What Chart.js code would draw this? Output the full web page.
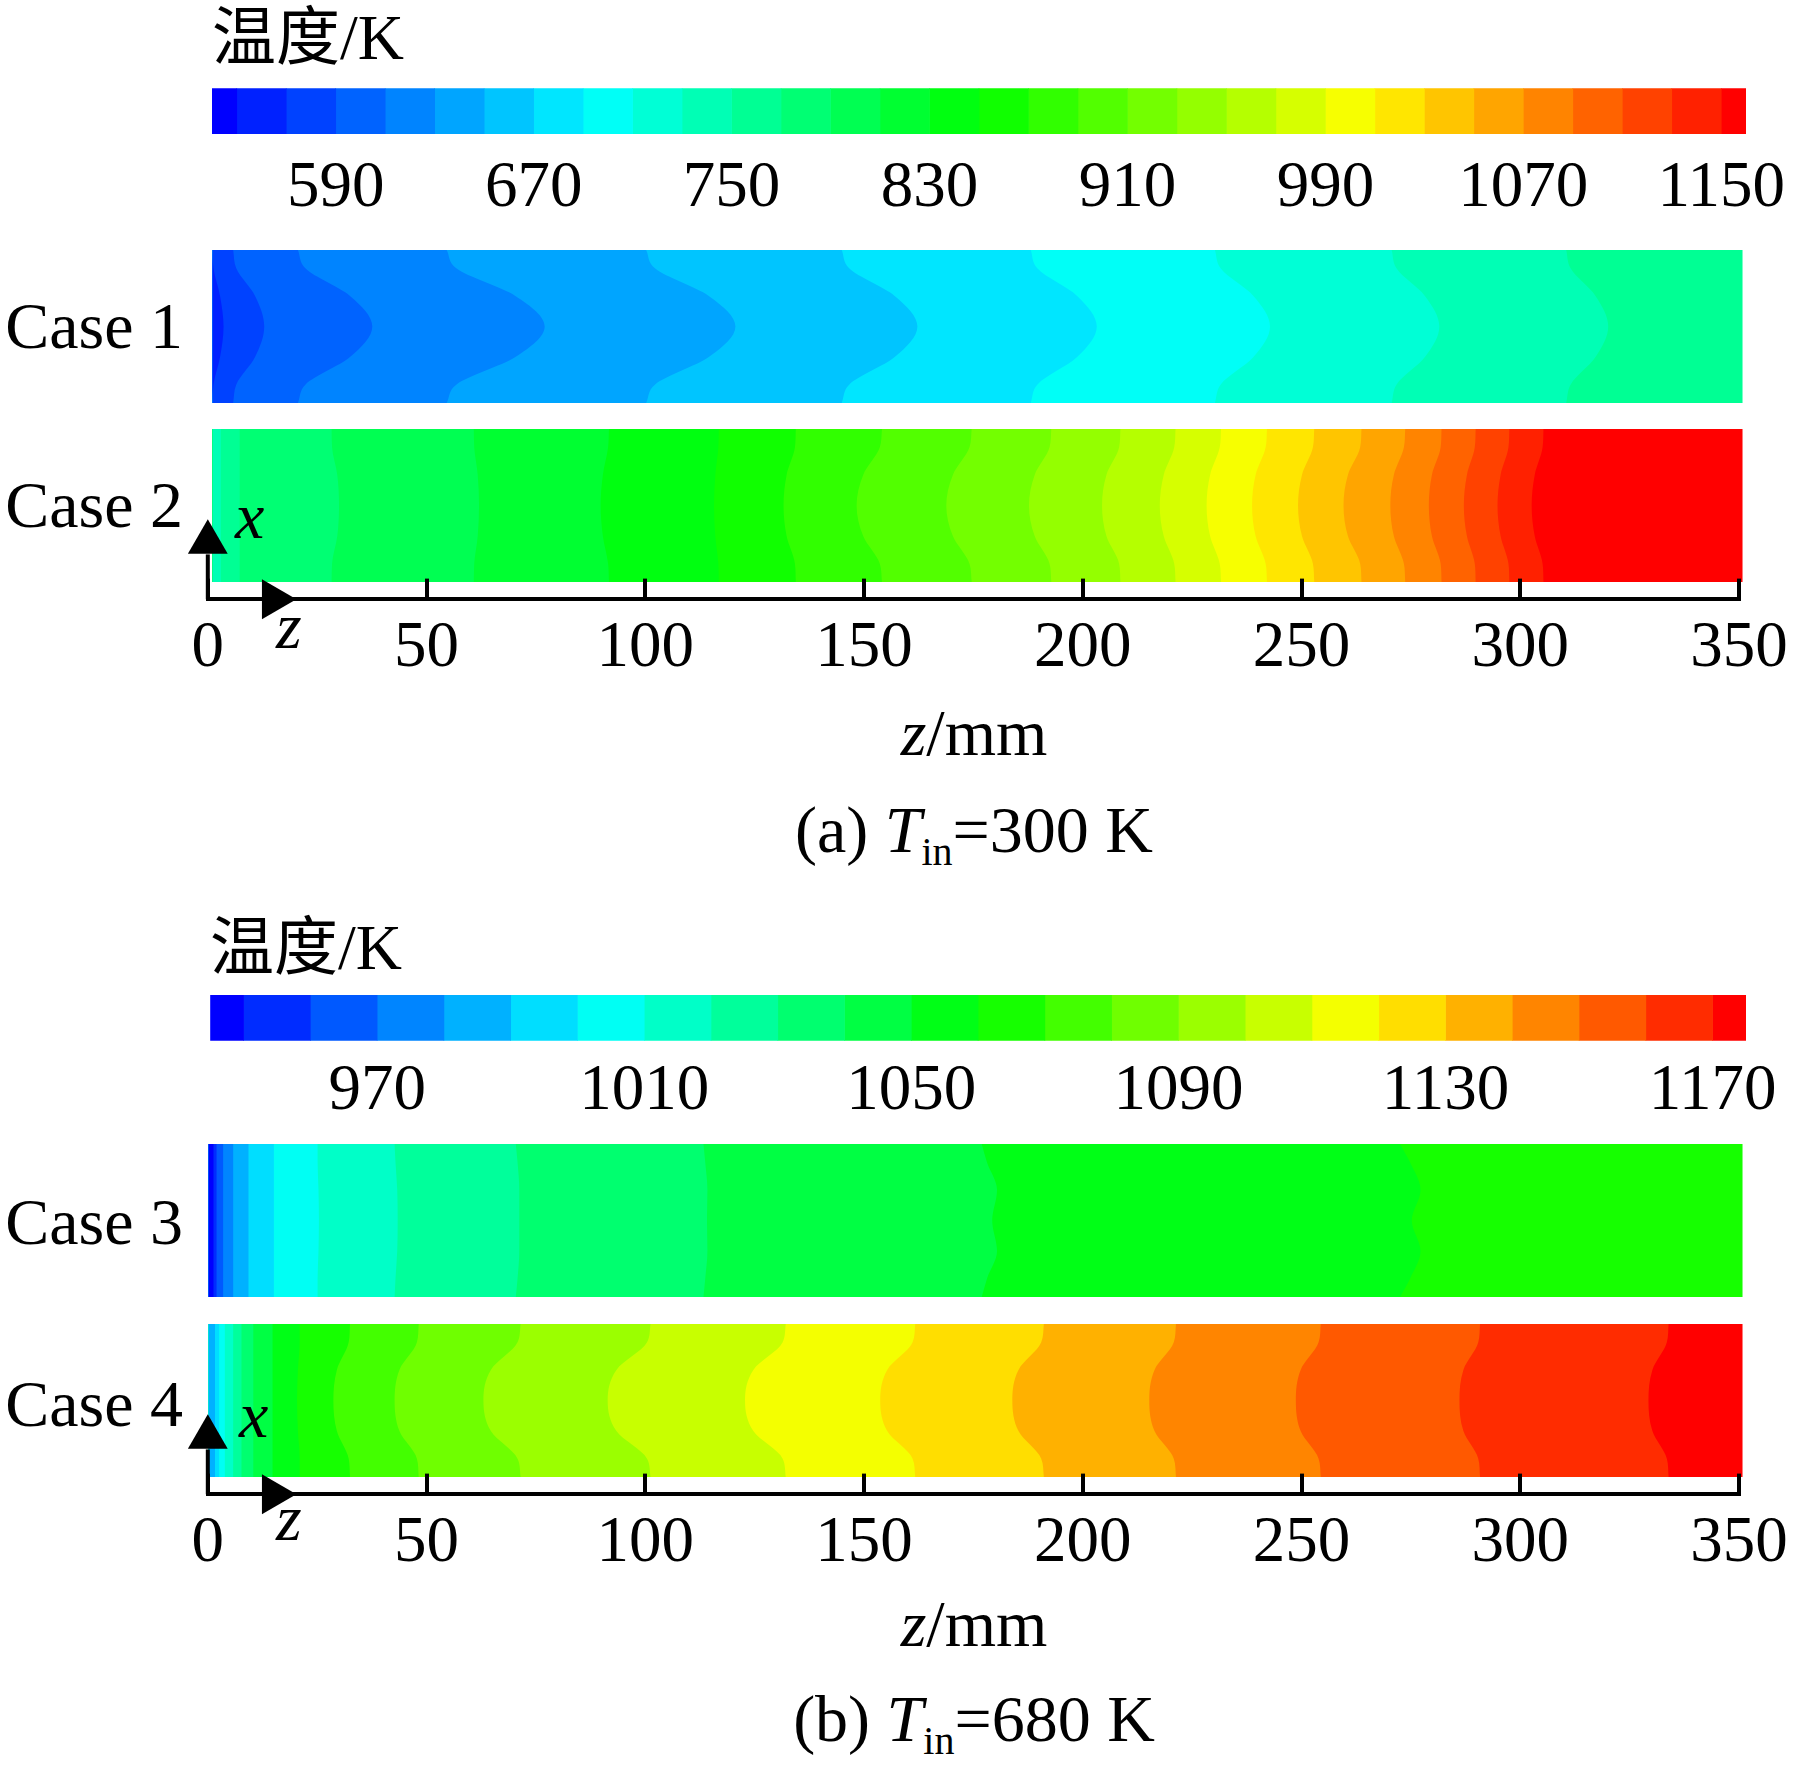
<!DOCTYPE html>
<html lang="zh">
<head>
<meta charset="UTF-8">
<title>温度云图</title>
<script src="https://cdn.jsdelivr.net/npm/chart.js"></script>
<style>
    body {
        margin: 0;
        background: #fff;
    }
    #page {
        position: relative;
        width: 1795px;
        height: 1776px;
        overflow: hidden;
        font-family: "Liberation Serif", "Noto Sans CJK SC", serif;
        color: #000;
    }
    canvas {
        position: absolute;
        left: 0;
    }
    .txt {
        position: absolute;
        white-space: nowrap;
        line-height: 1;
        font-size: 66px;
    }
    .title {
        font-size: 64px;
    }
    .title span {
        font-family: "Noto Sans CJK SC", sans-serif;
    }
    .case {
        right: 1612px;
        text-align: right;
    }
    .mid {
        left: 674px;
        width: 600px;
        text-align: center;
    }
    sub {
        font-size: 40px;
        vertical-align: -13px;
        line-height: 0;
    }
</style>
</head>
<body>
<div id="page">
    <canvas id="cbA" width="1900" height="220" style="top:60px"></canvas>
    <canvas id="case1" width="1900" height="153" style="top:250px"></canvas>
    <canvas id="case2" width="1900" height="153" style="top:429px"></canvas>
    <canvas id="axisA" width="1900" height="200" style="top:500px"></canvas>

    <canvas id="cbB" width="1900" height="220" style="top:960px"></canvas>
    <canvas id="case3" width="1900" height="153" style="top:1144px"></canvas>
    <canvas id="case4" width="1900" height="153" style="top:1324px"></canvas>
    <canvas id="axisB" width="1900" height="200" style="top:1395px"></canvas>

    <div class="txt title" style="left:212px; top:-1px"><span>温度</span>/K</div>
    <div class="txt case" style="top:293px">Case 1</div>
    <div class="txt case" style="top:472px">Case 2</div>
    <div class="txt" style="left:235px; top:483px"><i>x</i></div>
    <div class="txt" style="left:276px; top:593px"><i>z</i></div>
    <div class="txt mid" style="top:700px"><i>z</i>/mm</div>
    <div class="txt mid" style="top:797px">(a) <i>T</i><sub>in</sub>=300 K</div>

    <div class="txt title" style="left:210px; top:909px"><span>温度</span>/K</div>
    <div class="txt case" style="top:1189px">Case 3</div>
    <div class="txt case" style="top:1371px">Case 4</div>
    <div class="txt" style="left:239px; top:1382px"><i>x</i></div>
    <div class="txt" style="left:276px; top:1485px"><i>z</i></div>
    <div class="txt mid" style="top:1591px"><i>z</i>/mm</div>
    <div class="txt mid" style="top:1686px">(b) <i>T</i><sub>in</sub>=680 K</div>
</div>

<script>
    // transverse position across the channel (0 = lower wall, 1 = upper wall)
    const tPos = [0, 0.12, 0.3, 0.5, 0.7, 0.88, 1];

    // colour bar levels (K) and tick labels
    const cbEdgesA = [540, 550, 570, 590, 610, 630, 650, 670, 690, 710, 730, 750, 770, 790, 810, 830, 850,
        870, 890, 910, 930, 950, 970, 990, 1010, 1030, 1050, 1070, 1090, 1110, 1130, 1150, 1160];
    const cbTicksA = [590, 670, 750, 830, 910, 990, 1070, 1150];
    const cbEdgesB = [945, 950, 960, 970, 980, 990, 1000, 1010, 1020, 1030, 1040, 1050, 1060, 1070, 1080,
        1090, 1100, 1110, 1120, 1130, 1140, 1150, 1160, 1170, 1175];
    const cbTicksB = [970, 1010, 1050, 1090, 1130, 1170];
    const zTicks = [0, 50, 100, 150, 200, 250, 300, 350];

    // isotherm positions z (mm) at each tPos, and colour band of the region left of each line
    const case1Iso = [
        [1.1, 1.3, 2.8, 3.6, 2.8, 1.3, 1.1],
        [5.8, 6.5, 10.8, 12.9, 10.8, 6.5, 5.8],
        [20.6, 22.3, 32.5, 37.6, 32.5, 22.3, 20.6],
        [54.6, 56.8, 70.3, 77.0, 70.3, 56.8, 54.6],
        [100.2, 102.2, 114.5, 120.6, 114.5, 102.2, 100.2],
        [144.9, 146.6, 157.0, 162.2, 157.0, 146.6, 144.9],
        [188.1, 189.6, 198.7, 203.2, 198.7, 189.6, 188.1],
        [230.2, 231.5, 239.0, 242.8, 239.0, 231.5, 230.2],
        [270.6, 271.7, 278.2, 281.5, 278.2, 271.7, 270.6],
        [310.5, 311.5, 317.2, 320.1, 317.2, 311.5, 310.5],
        [350.8, 350.8, 350.8, 350.8, 350.8, 350.8, 350.8]
    ];
    const case1Band = [1, 2, 3, 4, 5, 6, 7, 8, 9, 10, 11];

    const case2Iso = [
        [3.0, 3.0, 3.0, 3.0, 3.0, 3.0, 3.0],
        [7.3, 7.3, 7.3, 7.3, 7.3, 7.3, 7.3],
        [28.3, 28.4, 29.6, 30.0, 29.6, 28.4, 28.3],
        [60.8, 60.9, 61.7, 62.0, 61.7, 60.9, 60.8],
        [91.7, 91.5, 90.3, 89.8, 90.3, 91.5, 91.7],
        [116.8, 116.7, 116.0, 115.7, 116.0, 116.7, 116.8],
        [134.4, 134.2, 132.3, 131.6, 132.3, 134.2, 134.4],
        [154.1, 153.6, 149.8, 148.3, 149.8, 153.6, 154.1],
        [174.6, 174.1, 170.3, 168.8, 170.3, 174.1, 174.6],
        [192.8, 192.4, 189.0, 187.7, 189.0, 192.4, 192.8],
        [208.6, 208.3, 205.4, 204.4, 205.4, 208.3, 208.6],
        [221.2, 220.9, 218.5, 217.6, 218.5, 220.9, 221.2],
        [231.6, 231.3, 229.1, 228.3, 229.1, 231.3, 231.6],
        [242.1, 241.8, 239.5, 238.7, 239.5, 241.8, 242.1],
        [252.9, 252.6, 250.1, 249.2, 250.1, 252.6, 252.9],
        [263.7, 263.4, 260.6, 259.6, 260.6, 263.4, 263.7],
        [273.7, 273.4, 271.1, 270.3, 271.1, 273.4, 273.7],
        [282.0, 281.8, 279.8, 279.1, 279.8, 281.8, 282.0],
        [289.8, 289.6, 287.8, 287.1, 287.8, 289.6, 289.8],
        [297.5, 297.3, 295.5, 294.8, 295.5, 297.3, 297.5],
        [305.3, 305.1, 303.3, 302.6, 303.3, 305.1, 305.3],
        [350.8, 350.8, 350.8, 350.8, 350.8, 350.8, 350.8]
    ];
    const case2Band = [10, 11, 12, 13, 14, 15, 16, 17, 18, 19, 20, 21, 22, 23, 24, 25, 26, 27, 28, 29, 30, 31];

    const case3Iso = [
        [1.3, 1.3, 1.3, 1.3, 1.3, 1.3, 1.3],
        [2.0, 2.0, 2.0, 2.0, 2.0, 2.0, 2.0],
        [3.5, 3.5, 3.5, 3.5, 3.5, 3.5, 3.5],
        [5.8, 5.8, 5.8, 5.8, 5.8, 5.8, 5.8],
        [9.3, 9.3, 9.3, 9.3, 9.3, 9.3, 9.3],
        [15.1, 15.1, 15.1, 15.1, 15.1, 15.1, 15.1],
        [25.1, 25.1, 25.3, 25.4, 25.3, 25.1, 25.1],
        [42.7, 42.9, 43.3, 43.4, 43.3, 42.9, 42.7],
        [70.4, 70.8, 71.2, 71.2, 71.2, 70.8, 70.4],
        [113.3, 113.7, 114.2, 114.1, 114.2, 113.7, 113.3],
        [176.9, 178.1, 180.4, 179.3, 180.4, 178.1, 176.9],
        [272.5, 274.8, 277.2, 275.2, 277.2, 274.8, 272.5],
        [350.8, 350.8, 350.8, 350.8, 350.8, 350.8, 350.8]
    ];
    const case3Band = [0, 1, 2, 3, 4, 5, 6, 7, 8, 9, 10, 11, 12];

    const case4Iso = [
        [1.65, 1.65, 1.65, 1.65, 1.65, 1.65, 1.65],
        [2.6, 2.6, 2.6, 2.6, 2.6, 2.6, 2.6],
        [3.9, 3.9, 3.9, 3.9, 3.9, 3.9, 3.9],
        [5.8, 5.8, 5.8, 5.8, 5.8, 5.8, 5.8],
        [7.7, 7.7, 7.7, 7.7, 7.7, 7.7, 7.7],
        [10.4, 10.4, 10.4, 10.4, 10.4, 10.4, 10.4],
        [14.8, 14.8, 14.8, 14.8, 14.8, 14.8, 14.8],
        [21.0, 21.0, 20.6, 20.4, 20.6, 21.0, 21.0],
        [32.5, 32.2, 29.5, 28.7, 29.5, 32.2, 32.5],
        [48.2, 47.8, 43.8, 42.7, 43.8, 47.8, 48.2],
        [71.5, 70.8, 64.7, 63.0, 64.7, 70.8, 71.5],
        [101.2, 100.4, 93.4, 91.4, 93.4, 100.4, 101.2],
        [132.1, 131.4, 124.7, 122.8, 124.7, 131.4, 132.1],
        [161.7, 161.1, 155.3, 153.7, 155.3, 161.1, 161.7],
        [191.1, 190.5, 185.3, 183.9, 185.3, 190.5, 191.1],
        [221.3, 220.8, 216.4, 215.2, 216.4, 220.8, 221.3],
        [254.4, 253.9, 249.8, 248.7, 249.8, 253.9, 254.4],
        [290.8, 290.4, 287.0, 286.1, 287.0, 290.4, 290.8],
        [333.9, 333.5, 330.2, 329.3, 330.2, 333.5, 333.9],
        [350.8, 350.8, 350.8, 350.8, 350.8, 350.8, 350.8]
    ];
    const case4Band = [4, 5, 6, 7, 8, 9, 10, 11, 12, 13, 14, 15, 16, 17, 18, 19, 20, 21, 22, 23];

    // coordinate arrows (z in mm, x as fraction of channel height)
    const axisRangeY = [-0.113, 0.022];
    const upShaftY = [-0.113, 0.18];
    const upHeadY = 0.26;
    const rightHeadZ = 15;

    const tickFont = { family: 'Liberation Serif', size: 65, lineHeight: 1 };
    const plainLabel = (v) => String(v);

    // rainbow map, blue -> red
    function bandColor(k, n) {
        const h = 240 * (1 - k / (n - 1));
        const f = (m) => {
            const kk = (m + h / 60) % 6;
            return Math.round(255 * (1 - Math.max(0, Math.min(kk, 4 - kk, 1))));
        };
        return 'rgb(' + f(5) + ',' + f(3) + ',' + f(1) + ')';
    }

    const base = {
        responsive: false,
        animation: false,
        devicePixelRatio: 1,
        events: [],
        plugins: { legend: { display: false }, tooltip: { enabled: false } }
    };

    function drawColorbar(id, edges, ticks, pad, labelPad) {
        const n = edges.length - 1;
        new Chart(document.getElementById(id), {
            type: 'bar',
            data: {
                labels: [''],
                datasets: edges.slice(0, n).map((lo, k) => ({
                    data: [[lo, edges[k + 1]]],
                    backgroundColor: bandColor(k, n),
                    borderWidth: 0,
                    grouped: false,
                    barPercentage: 1,
                    categoryPercentage: 1
                }))
            },
            options: Object.assign({}, base, {
                indexAxis: 'y',
                layout: { padding: pad, autoPadding: false },
                scales: {
                    x: {
                        type: 'linear',
                        min: edges[0],
                        max: edges[n],
                        afterBuildTicks: (s) => { s.ticks = ticks.map(v => ({ value: v })); },
                        afterFit: (s) => { s.height = 100; },
                        grid: { display: false },
                        border: { display: false },
                        ticks: { font: tickFont, color: '#000', padding: labelPad, maxRotation: 0,
                            autoSkip: false, callback: plainLabel }
                    },
                    y: { display: false }
                }
            })
        });
    }

    function drawStrip(id, isoList, bandList, nBands, zStart, withArrow) {
        const sets = isoList.map((zs, i) => ({
            data: zs.map((z, j) => ({ x: z, y: tPos[j] })),
            fill: { value: zStart },
            backgroundColor: bandColor(bandList[i], nBands),
            borderColor: bandColor(bandList[i], nBands),
            borderWidth: 0,
            pointRadius: 0,
            cubicInterpolationMode: 'monotone'
        }));
        if (withArrow) {
            // head of the x arrow sits over the lower-left corner of the strip
            sets.unshift({
                data: [{ x: 0, y: upHeadY }],
                fill: false,
                showLine: false,
                pointStyle: 'triangle',
                pointRadius: 23,
                pointBackgroundColor: '#000',
                pointBorderWidth: 0,
                clip: false
            });
        }
        new Chart(document.getElementById(id), {
            type: 'line',
            data: { datasets: sets },
            options: Object.assign({}, base, {
                indexAxis: 'y',
                // same mm-to-pixel mapping as the axis below, with a little room past 350 mm
                layout: { padding: { left: 207.8, right: 156.6, top: 0, bottom: 0 }, autoPadding: false },
                scales: {
                    x: { type: 'linear', min: 0, max: 351, display: false },
                    y: { type: 'linear', min: 0, max: 1, display: false }
                }
            })
        });
    }

    function drawAxis(id) {
        new Chart(document.getElementById(id), {
            type: 'scatter',
            data: {
                datasets: [
                    {
                        data: upShaftY.map(y => ({ x: 0, y: y })),
                        showLine: true,
                        borderColor: '#000',
                        borderWidth: 4,
                        pointRadius: 0,
                        clip: false
                    },
                    {
                        data: [{ x: rightHeadZ, y: axisRangeY[0] }],
                        pointStyle: 'triangle',
                        rotation: 90,
                        pointRadius: 23,
                        backgroundColor: '#000',
                        borderWidth: 0,
                        clip: false
                    }
                ]
            },
            options: Object.assign({}, base, {
                layout: { padding: { left: 207.8, right: 161, top: 78.6, bottom: 20.74 }, autoPadding: false },
                scales: {
                    x: {
                        type: 'linear',
                        min: 0,
                        max: 350,
                        afterBuildTicks: (s) => { s.ticks = zTicks.map(v => ({ value: v })); },
                        afterFit: (s) => { s.height = 80; },
                        grid: { color: '#000', lineWidth: 4, drawTicks: false, drawOnChartArea: true },
                        border: { display: true, color: '#000', width: 4 },
                        ticks: { font: tickFont, color: '#000', padding: 16.7, maxRotation: 0,
                            autoSkip: false, callback: plainLabel }
                    },
                    y: { type: 'linear', min: axisRangeY[0], max: axisRangeY[1], display: false }
                }
            })
        });
    }

    drawColorbar('cbA', cbEdgesA, cbTicksA, { left: 212, right: 154, top: 28.3, bottom: 46 }, 14.7);
    drawStrip('case1', case1Iso, case1Band, 32, 1.1, false);
    drawStrip('case2', case2Iso, case2Band, 32, 1.1, true);
    drawAxis('axisA');

    drawColorbar('cbB', cbEdgesB, cbTicksB, { left: 210.2, right: 154, top: 35, bottom: 39.3 }, 10.5);
    drawStrip('case3', case3Iso, case3Band, 24, 0.2, false);
    drawStrip('case4', case4Iso, case4Band, 24, 0.2, true);
    drawAxis('axisB');
</script>
</body>
</html>
